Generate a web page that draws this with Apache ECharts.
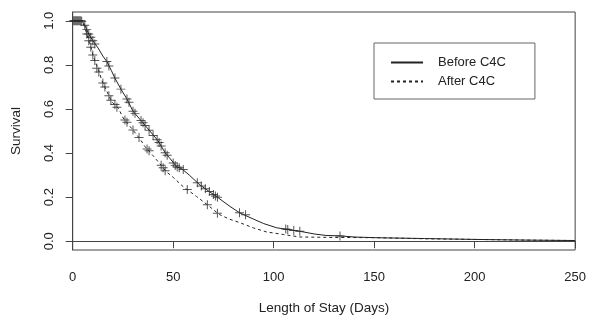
<!DOCTYPE html>
<html>
<head>
<meta charset="utf-8">
<script src="https://cdn.jsdelivr.net/npm/echarts@6/dist/echarts.min.js"></script>
<style>
html,body{margin:0;padding:0;background:#fff;}
#chart{width:589px;height:320px;}
</style>
</head>
<body>
<div id="chart"></div>
<script>
// Survival curve: [day, survival]
const beforeCurve = [
  [0,1.0],[4,1.0],[5,0.995],[6,0.98],[7,0.96],[8,0.94],[10,0.91],[12.6,0.877],[15,0.84],
  [17,0.815],[19.2,0.775],[21,0.74],[24,0.69],[26.8,0.648],[30,0.59],[34.3,0.544],
  [38.4,0.50],[42.5,0.455],[45.9,0.403],[48,0.38],[51.7,0.338],[54.2,0.329],[58,0.30],
  [63.3,0.255],[68,0.225],[72.4,0.197],[78.2,0.158],[83.2,0.128],[90,0.10],[95,0.08],
  [101.4,0.061],[107,0.053],[113,0.045],[120,0.033],[126,0.026],[133,0.024],[140,0.019],
  [150,0.016],[175,0.012],[200,0.008],[225,0.005],[250,0.003]
];
const afterCurve = [
  [0,1.0],[4,1.0],[5,0.99],[6,0.97],[7,0.94],[8,0.91],[9.2,0.877],[10.2,0.84],[11.7,0.803],
  [13.6,0.759],[14.2,0.735],[16,0.70],[18,0.66],[19.4,0.633],[22.7,0.604],[25.1,0.559],
  [29.3,0.512],[33.4,0.465],[35.9,0.430],[40,0.388],[43.4,0.351],[46.7,0.314],[50,0.29],
  [55,0.247],[61.6,0.203],[67,0.165],[73,0.121],[78,0.10],[83.2,0.084],[90,0.06],
  [96.4,0.042],[105,0.03],[113,0.019],[130,0.017],[150,0.016],[175,0.011],[200,0.008],
  [225,0.005],[250,0.003]
];
// Censor marks ("+"): [day, survival]
const beforeCensor = [
  [0.5,1.0],[1,1.0],[1.5,1.0],[2,1.0],[2.5,1.0],[3,1.0],[3.5,1.0],[4,1.0],[4.5,0.998],
  [6,0.98],[7,0.96],[8,0.94],[9,0.925],[10,0.91],[11,0.895],[17,0.815],[18,0.795],
  [21,0.74],[24,0.69],[27,0.645],[28,0.63],[30,0.59],[31,0.58],[34,0.548],[35,0.537],
  [36,0.525],[38,0.503],[40,0.48],[42,0.46],[43,0.448],[44,0.432],[46,0.401],[47,0.39],
  [50,0.355],[51,0.344],[52,0.337],[53,0.333],[55,0.325],[62,0.265],[64,0.25],[66,0.238],
  [68,0.225],[70,0.212],[71,0.205],[72,0.199],[83,0.129],[86,0.12],[106,0.055],
  [107,0.053],[110,0.049],[113,0.045],[133,0.024]
];
const afterCensor = [
  [7,0.94],[8,0.91],[9,0.88],[10,0.845],[11,0.82],[12,0.785],[13,0.768],[15,0.718],
  [16,0.70],[18,0.66],[19,0.64],[21,0.62],[22,0.608],[26,0.55],[27,0.54],[30,0.505],
  [33,0.47],[37,0.418],[38,0.41],[44,0.345],[45,0.333],[46,0.32],[57,0.235],[67,0.165],
  [72,0.127]
];
const xTicks = [0,50,100,150,200,250];
const yTicks = [0,0.2,0.4,0.6,0.8,1.0];
const seriesNames = ['Before C4C','After C4C'];

const INK = '#222';
const FONT = 'Liberation Sans, Arial, sans-serif';
const plusPath = 'path://M0,4.45H10V5.55H0Z M4.45,0H5.55V10H4.45Z';

const chart = echarts.init(document.getElementById('chart'), null, {renderer:'canvas'});
chart.setOption({
  animation:false,
  backgroundColor:'#fff',
  grid:{left:72.7,right:13,top:12,bottom:66,show:true,borderColor:'#444',borderWidth:1,containLabel:false},
  xAxis:{
    type:'value',min:0,max:250,interval:50,
    name:'Length of Stay (Days)',nameLocation:'middle',nameGap:51,
    nameTextStyle:{color:INK,fontSize:13.5,fontFamily:FONT},
    axisLine:{show:true,lineStyle:{color:'#444',width:1}},
    axisTick:{show:true,length:7,lineStyle:{color:'#444'},customValues:xTicks},
    axisLabel:{color:INK,fontSize:13,fontFamily:FONT,margin:21,customValues:xTicks},
    splitLine:{show:false}
  },
  yAxis:{
    type:'value',min:-0.04,max:1.04,
    name:'Survival',nameLocation:'middle',nameGap:49,
    nameTextStyle:{color:INK,fontSize:13.5,fontFamily:FONT},
    axisLine:{show:true,lineStyle:{color:'#444',width:1}},
    axisTick:{show:true,length:7,lineStyle:{color:'#444'},customValues:yTicks},
    axisLabel:{color:INK,fontSize:13,fontFamily:FONT,margin:17,rotate:90,
      align:'center',verticalAlign:'bottom',customValues:yTicks,
      formatter:v=>Number(v).toFixed(1)},
    splitLine:{show:false}
  },
  legend:{
    data:seriesNames,orient:'vertical',left:374,top:43,
    padding:[13,29,11,16],itemGap:6,itemWidth:32,itemHeight:14,
    borderColor:'#666',borderWidth:1,borderRadius:0,
    itemStyle:{opacity:0},
    textStyle:{color:INK,fontSize:13,fontFamily:FONT,padding:[0,0,0,10]}
  },
  series:[
    {name:seriesNames[0],type:'line',data:beforeCurve,showSymbol:false,symbol:'none',
      lineStyle:{color:INK,width:1,type:'solid'},itemStyle:{color:INK},z:3},
    {name:seriesNames[1],type:'line',data:afterCurve,showSymbol:false,symbol:'none',
      lineStyle:{color:INK,width:1,type:[3,3]},itemStyle:{color:INK},z:3},
    {name:'beforeCensor',type:'scatter',data:beforeCensor,symbol:plusPath,symbolSize:9,
      itemStyle:{color:'#2a2a2a'},z:4},
    {name:'afterCensor',type:'scatter',data:afterCensor,symbol:plusPath,symbolSize:9,
      itemStyle:{color:'#2a2a2a'},z:4}
  ]
});
</script>
</body>
</html>
